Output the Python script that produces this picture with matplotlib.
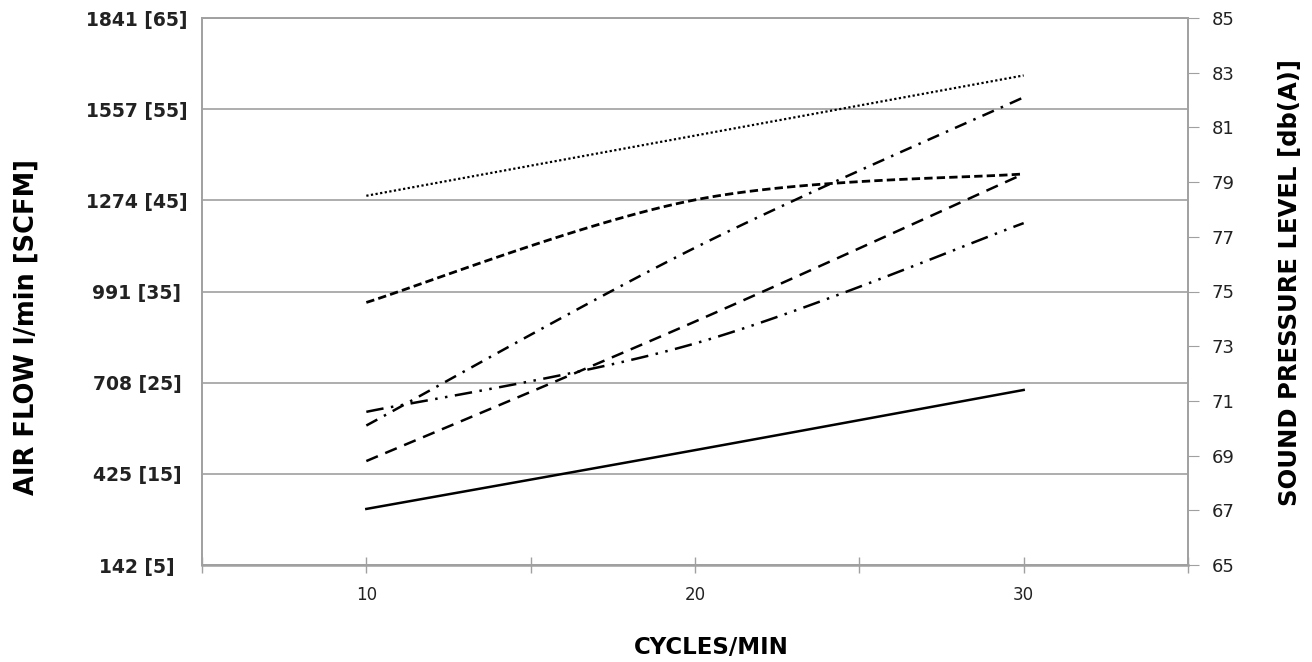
import numpy as np
import matplotlib
matplotlib.use("Agg")
import matplotlib.pyplot as plt

# cycles per minute
cycles = [10, 20, 30]

# sound pressure level readings [db(A)]
dotted_line = [78.5, 80.7, 82.9]
dashdot_line = [70.1, 76.6, 82.1]
short_dash_line = [74.6, 78.35, 79.3]
dash_line = [68.8, 73.9, 79.3]
dashdotdot_line = [70.6, 73.1, 77.5]
solid_line = [67.05, 69.2, 71.4]

# left axis (SCFM) and its labels
scfm_ticks = [5, 15, 25, 35, 45, 55, 65]
lpm_labels = ["142 [5]", "425 [15]", "708 [25]", "991 [35]",
              "1274 [45]", "1557 [55]", "1841 [65]"]
db_ticks = list(range(65, 86, 2))

GRID = "#a0a0a0"


def smooth(xs, ys, n=60):
    # spreadsheet style smoothed line (Catmull-Rom as cubic Bezier)
    xs = np.asarray(xs, float)
    ys = np.asarray(ys, float)
    pts = np.column_stack([xs, ys])
    out = []
    for i in range(len(pts) - 1):
        p0 = pts[max(i - 1, 0)]
        p1 = pts[i]
        p2 = pts[i + 1]
        p3 = pts[min(i + 2, len(pts) - 1)]
        c1 = p1 + (p2 - p0) / 6
        c2 = p2 - (p3 - p1) / 6
        t = np.linspace(0, 1, n)[:, None]
        seg = ((1 - t) ** 3 * p1 + 3 * (1 - t) ** 2 * t * c1
               + 3 * (1 - t) * t ** 2 * c2 + t ** 3 * p2)
        out.append(seg if i == 0 else seg[1:])
    seg = np.vstack(out)
    return seg[:, 0], seg[:, 1]


fig = plt.figure(figsize=(13.12, 6.62), dpi=100)
ax = fig.add_axes([202 / 1312, 1 - 565 / 662, (1188 - 202) / 1312, (565 - 18) / 662])
ax2 = ax.twinx()

ax.set_xlim(5, 35)
ax.set_ylim(5, 65)
ax.set_yticks(scfm_ticks)
ax.set_yticklabels(lpm_labels, fontsize=13.5, fontweight="bold", color="#222222")
for lbl in ax.get_yticklabels():
    lbl.set_horizontalalignment("center")
# labels are centred about 65 px left of the axis
ax.tick_params(axis="y", length=0, pad=65 * 72 / 100)
ax.yaxis.grid(True, color=GRID, linewidth=1.2)
ax.set_axisbelow(True)

ax.set_xticks([10, 20, 30])
ax.set_xticks([5, 15, 25, 35], minor=True)
ax.tick_params(axis="x", which="both", direction="inout", length=12,
               color=GRID, width=1, labelsize=12, pad=9, labelcolor="#222222")

for a in (ax, ax2):
    for s in a.spines.values():
        s.set_color(GRID)
        s.set_linewidth(1.2)
ax.spines["bottom"].set_linewidth(1.8)

ax2.set_ylim(65, 85)
ax2.set_yticks(db_ticks)
ax2.tick_params(axis="y", direction="out", length=8, color=GRID,
                labelsize=13, labelcolor="#222222", pad=9)

styles = [
    (dotted_line, (0, (1, 1.1)), 1.6),
    (dashdot_line, (0, (5, 3, 1, 3)), 1.8),
    (short_dash_line, (0, (3, 1.5)), 2.0),
    (dash_line, (0, (5, 3.2)), 1.8),
    (dashdotdot_line, (0, (7, 3, 1, 3, 1, 3)), 1.8),
    (solid_line, "-", 1.8),
]
for vals, ls, lw in styles:
    sx, sy = smooth(cycles, vals)
    ax2.plot(sx, sy, color="black", linestyle=ls, linewidth=lw)

fig.text(711 / 1312, 1 - 648 / 662, "CYCLES/MIN", ha="center", va="center",
         fontsize=16.5, fontweight="bold")
fig.text(27 / 1312, 1 - 327 / 662, "AIR FLOW l/min [SCFM]", ha="center",
         va="center", rotation=90, fontsize=18.5, fontweight="bold")
fig.text(1290 / 1312, 1 - 283 / 662, "SOUND PRESSURE LEVEL [db(A)]",
         ha="center", va="center", rotation=90, fontsize=17.5, fontweight="bold")

fig.savefig("out.png", dpi=100)
